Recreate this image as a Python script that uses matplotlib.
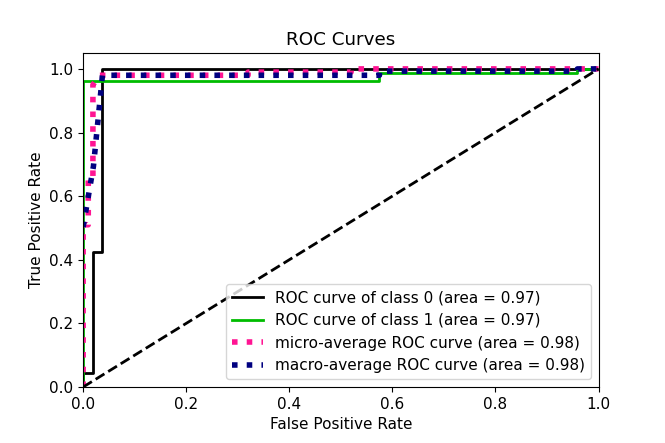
import numpy as np
import matplotlib
matplotlib.use("Agg")
from matplotlib import pyplot as plt

# class 0 roc
fpr_0 = [0.0, 0.0, 0.02, 0.02, 0.0375, 0.0375, 1.0]
tpr_0 = [0.0, 0.044, 0.044, 0.425, 0.425, 1.0, 1.0]
auc_0 = 0.97

# class 1 roc
fpr_1 = [0.0, 0.0, 0.575, 0.575, 0.959, 0.959, 1.0]
tpr_1 = [0.0, 0.963, 0.963, 0.986, 0.986, 1.0, 1.0]
auc_1 = 0.97

# micro average
fpr_micro = [0.0, 0.0, 0.01, 0.01, 0.019, 0.019, 0.032, 0.32, 0.32, 0.52, 0.52, 1.0]
tpr_micro = [0.0, 0.51, 0.51, 0.66, 0.66, 0.95, 0.98, 0.98, 0.99, 0.99, 1.0, 1.0]
auc_micro = 0.98

# macro average
fpr_macro = [0.0, 0.02, 0.0375, 0.575, 0.575, 0.959, 0.959, 1.0]
tpr_macro = [0.503, 0.694, 0.98, 0.98, 0.993, 0.993, 1.0, 1.0]
auc_macro = 0.98

plt.rcParams["font.size"] = 11

fig = plt.figure(figsize=(6.65, 4.43), dpi=100)
ax = fig.add_axes([0.125, 1 - 387 / 443, 0.775, (387 - 53) / 443])

cmap = plt.get_cmap("nipy_spectral")
ax.plot(fpr_0, tpr_0, lw=2, color=cmap(0.0),
        label="ROC curve of class 0 (area = {:0.2f})".format(auc_0))
ax.plot(fpr_1, tpr_1, lw=2, color=cmap(0.5),
        label="ROC curve of class 1 (area = {:0.2f})".format(auc_1))
ax.plot(fpr_micro, tpr_micro, color="deeppink", linestyle=":", linewidth=4,
        label="micro-average ROC curve (area = {:0.2f})".format(auc_micro))
ax.plot(fpr_macro, tpr_macro, color="navy", linestyle=":", linewidth=4,
        label="macro-average ROC curve (area = {:0.2f})".format(auc_macro))
ax.plot([0, 1], [0, 1], "k--", lw=2)

ax.set_xlim([0.0, 1.0])
ax.set_ylim([0.0, 1.05])
ax.set_title("ROC Curves", fontsize="large")
ax.set_xlabel("False Positive Rate", fontsize="medium")
ax.set_ylabel("True Positive Rate", fontsize="medium")
ax.tick_params(labelsize="medium")
ax.legend(loc="lower right", fontsize="medium")

plt.savefig("out.png")
plt.close()
